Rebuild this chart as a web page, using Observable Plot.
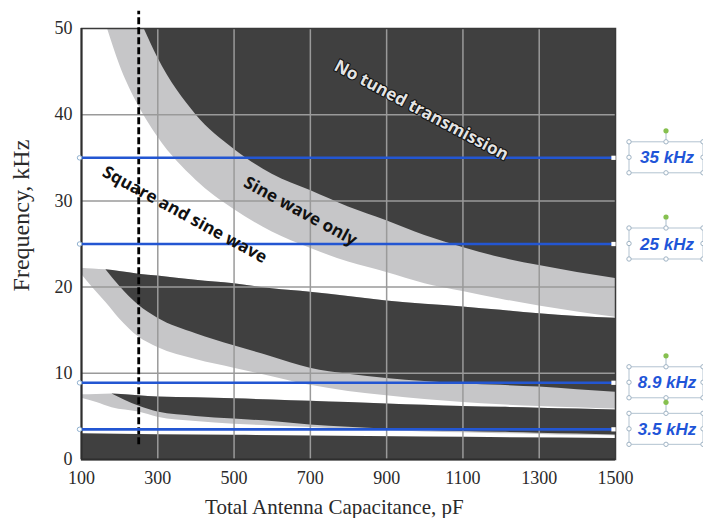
<!DOCTYPE html>
<html>
<head>
<meta charset="utf-8">
<script src="https://cdn.jsdelivr.net/npm/d3@7"></script>
<script src="https://cdn.jsdelivr.net/npm/@observablehq/plot@0.6"></script>
<style>
  html, body { margin: 0; padding: 0; background: #fff; }
</style>
</head>
<body>
<div id="chart"></div>
<script>
// Axis ticks
const xTicks = [100, 300, 500, 700, 900, 1100, 1300, 1500];
const yTicks = [0, 10, 20, 30, 40, 50];
const xGrid = [300, 500, 700, 900, 1100, 1300];
const yGrid = [10, 20, 30, 40];

// Upper band, open to the top of the chart: light edge ("sine wave only") and dark edge ("no tuned transmission")
const upperLightC = [168, 200, 250, 300, 400, 500, 600, 700, 800, 900, 1000, 1100, 1200, 1300, 1400, 1500];
const upperLightEdge = [50, 45.8, 41.0, 37.4, 32.4, 29.0, 26.4, 24.5, 22.9, 21.7, 20.4, 19.5, 18.6, 17.8, 17.1, 16.5];
const upperDarkC = [264, 300, 400, 500, 600, 700, 800, 900, 1000, 1100, 1200, 1300, 1400, 1500];
const upperDarkEdge = [50, 46.6, 40.0, 36.0, 33.1, 31.2, 29.3, 27.7, 26.0, 24.6, 23.4, 22.5, 21.7, 21.0];

// Middle band: common top, lower edge of dark part, lower edge of light part
const midC = [100, 130, 164, 200, 250, 300, 400, 500, 600, 700, 800, 900, 1000, 1100, 1200, 1300, 1400, 1500];
const midTop = [22.2, 22.1, 22.0, 21.8, 21.5, 21.3, 20.8, 20.4, 19.8, 19.4, 18.9, 18.4, 18.0, 17.7, 17.3, 16.9, 16.6, 16.4];
const midDarkLow = [22.2, 22.1, 22.0, 20.1, 17.9, 16.4, 14.6, 13.2, 11.9, 10.6, 9.9, 9.4, 9.05, 8.8, 8.6, 8.4, 8.1, 7.8];
const midLightLow = [21.5, 19.9, 18.2, 16.3, 14.2, 13.0, 11.6, 10.6, 9.6, 8.6, 7.9, 7.4, 6.95, 6.6, 6.35, 6.15, 6.0, 5.85];

// Lower band
const lowC = [100, 140, 180, 250, 300, 400, 500, 600, 700, 800, 900, 1000, 1100, 1200, 1300, 1400, 1500];
const lowTop = [7.5, 7.55, 7.6, 7.4, 7.25, 7.15, 7.05, 6.9, 6.75, 6.6, 6.45, 6.3, 6.15, 6.05, 5.95, 5.85, 5.75];
const lowDarkLow = [7.5, 7.55, 7.6, 6.2, 5.5, 5.0, 4.7, 4.4, 4.0, 3.75, 3.55, 3.4, 3.25, 3.15, 3.05, 2.95, 2.85];
const lowLightLow = [7.1, 6.6, 6.0, 5.5, 4.9, 4.4, 4.1, 3.9, 3.7, 3.5, 3.35, 3.2, 3.1, 3.0, 2.9, 2.8, 2.75];

// Base band along the bottom
const baseC = [100, 500, 1000, 1500];
const baseTop = [3.0, 2.8, 2.6, 2.45];

// Operating frequencies and the capacitance limit
const guideFreqs = [35, 25, 8.9, 3.5];
const guideLabels = ["35 kHz", "25 kHz", "8.9 kHz", "3.5 kHz"];
const limitC = [250];

// Region names
const regionNames = ["No tuned transmission", "Sine wave only", "Square and sine wave"];
const regionC = [991, 674, 371];
const regionF = [40.5, 28.8, 28.4];

const DARK = "#404040";
const LIGHT = "#c6c6c8";
const BLUE = "#2356d2";
const GRID = "#9a9a9a";

const rows = (cs, cols) => cs.map((c, i) => {
  const r = {c};
  for (const k in cols) r[k] = cols[k][i];
  return r;
});

const upperLight = rows(upperLightC, {edge: upperLightEdge});
const upperDark = rows(upperDarkC, {edge: upperDarkEdge});
const mid = rows(midC, {top: midTop, dark: midDarkLow, light: midLightLow});
const low = rows(lowC, {top: lowTop, dark: lowDarkLow, light: lowLightLow});
const base = rows(baseC, {top: baseTop});
const regions = regionNames.map((t, i) => ({t, c: regionC[i], f: regionF[i]}));

const curve = "monotone-x";
const annotFont = "'Open Sans', 'Noto Sans', sans-serif";

const plot = Plot.plot({
  width: 703,
  height: 518,
  marginLeft: 81,
  marginRight: 88,
  marginTop: 28,
  marginBottom: 59,
  style: {fontFamily: "'Liberation Serif', 'Times New Roman', serif", fontSize: "18px", color: "#2a2a2a", background: "white"},
  x: {domain: [100, 1500], ticks: xTicks, tickFormat: d => String(d), tickSize: 0, tickPadding: 12, label: null},
  y: {domain: [0, 50], ticks: yTicks, tickFormat: d => String(d), tickSize: 0, tickPadding: 9, label: null},
  marks: [
    // upper band
    Plot.areaY(upperLight, {x: "c", y1: "edge", y2: 50, fill: LIGHT, curve}),
    Plot.areaY(upperDark, {x: "c", y1: "edge", y2: 50, fill: DARK, curve}),
    // middle band
    Plot.areaY(mid, {x: "c", y1: "light", y2: "top", fill: LIGHT, curve}),
    Plot.areaY(mid.filter(d => d.c >= 164), {x: "c", y1: "dark", y2: "top", fill: DARK, curve}),
    // lower band
    Plot.areaY(low, {x: "c", y1: "light", y2: "top", fill: LIGHT, curve}),
    Plot.areaY(low.filter(d => d.c >= 180), {x: "c", y1: "dark", y2: "top", fill: DARK, curve}),
    // base band
    Plot.areaY(base, {x: "c", y1: 0, y2: "top", fill: DARK, curve}),
    // grid
    Plot.ruleX(xGrid, {stroke: GRID, strokeWidth: 1.5}),
    Plot.ruleY(yGrid, {stroke: GRID, strokeWidth: 1.5}),
    Plot.frame({stroke: "#3a3a3a", strokeWidth: 1.5}),
    Plot.ruleX([100], {stroke: "#2e2e2e", strokeWidth: 2}),
    Plot.ruleY([0], {stroke: "#2e2e2e", strokeWidth: 2}),
    // capacitance limit
    Plot.ruleX(limitC, {y1: 1.7, y2: 52, stroke: "#000", strokeWidth: 2.8, strokeDasharray: "7,3"}),
    // operating frequencies
    Plot.ruleY(guideFreqs, {x1: 100, x2: 1500, dx: -1, stroke: BLUE, strokeWidth: 2.6}),
    Plot.dot(guideFreqs, {x: 100, y: d => d, dx: -2, r: 2.2, fill: "white", stroke: "#8fb0cf", strokeWidth: 1}),
    Plot.dot(guideFreqs, {x: 1500, y: d => d, dx: -2, r: 2.4, symbol: "square", fill: "white", stroke: "none"}),
    // region names
    Plot.text(regions.slice(0, 1), {x: "c", y: "f", text: "t", rotate: 28, fontFamily: annotFont, fontWeight: "bold", fontSize: 17,
      fill: "#e4e4e4", stroke: "#111", strokeWidth: 2.2, ariaLabel: "region-light"}),
    Plot.text(regions.slice(1), {x: "c", y: "f", text: "t", rotate: 28.5, fontFamily: annotFont, fontWeight: "bold", fontSize: 17,
      fill: "#111", ariaLabel: "region-dark"}),
    // axis titles
    Plot.text([{t: "Frequency, kHz", f: 28.3}], {y: "f", text: "t", frameAnchor: "left", textAnchor: "middle", lineAnchor: "middle",
      dx: -60, rotate: -90, fontSize: 24, fill: "#2a2a2a"}),
    Plot.text([{t: "Total Antenna Capacitance, pF", c: 763}], {x: "c", text: "t", frameAnchor: "bottom", textAnchor: "middle", lineAnchor: "middle",
      dy: 48, fontSize: 21, fill: "#2a2a2a"})
  ]
});

const svg = d3.select(plot);
const defs = svg.insert("defs", ":first-child");
const sh = defs.append("filter").attr("id", "txt-shadow").attr("x", "-10%").attr("y", "-30%").attr("width", "130%").attr("height", "180%");
sh.append("feDropShadow").attr("dx", 1.5).attr("dy", 2).attr("stdDeviation", 1.3).attr("flood-color", "#000").attr("flood-opacity", 0.55);
svg.selectAll('g[aria-label="region-light"], g[aria-label="region-dark"]').attr("filter", "url(#txt-shadow)");

// Frequency call-out boxes beside each operating line
const yScale = plot.scale("y");
const boxes = svg.append("g").attr("aria-label", "frequency-callouts");
const bx = 629, bw = 74, bh = 31;
guideFreqs.forEach((f, i) => {
  const cy = yScale.apply(f);
  const y0 = cy - bh / 2;
  const g = boxes.append("g");
  g.append("rect").attr("x", bx).attr("y", y0).attr("width", bw).attr("height", bh)
    .attr("fill", "white").attr("stroke", "#b3c3d1").attr("stroke-width", 1);
  g.append("line").attr("x1", bx + bw / 2).attr("x2", bx + bw / 2).attr("y1", y0).attr("y2", y0 - 11)
    .attr("stroke", "#a9bccc").attr("stroke-width", 1);
  g.append("circle").attr("cx", bx + bw / 2).attr("cy", y0 - 11).attr("r", 2.6).attr("fill", "#86c04f");
  const handles = [[0, 0], [0.5, 0], [1, 0], [0, 0.5], [1, 0.5], [0, 1], [0.5, 1], [1, 1]];
  handles.forEach(([u, v]) => {
    g.append("circle").attr("cx", bx + u * bw).attr("cy", y0 + v * bh).attr("r", 2.2)
      .attr("fill", "white").attr("stroke", "#9fb3c4").attr("stroke-width", 1);
  });
  g.append("text").attr("x", bx + bw / 2 + 1).attr("y", cy).attr("dy", "0.36em")
    .attr("text-anchor", "middle").attr("font-family", "'Liberation Sans', Arial, sans-serif")
    .attr("font-size", 17).attr("font-weight", "bold").attr("font-style", "italic")
    .attr("fill", "#1f55d8").text(guideLabels[i]);
});

document.getElementById("chart").appendChild(plot);
</script>
</body>
</html>
